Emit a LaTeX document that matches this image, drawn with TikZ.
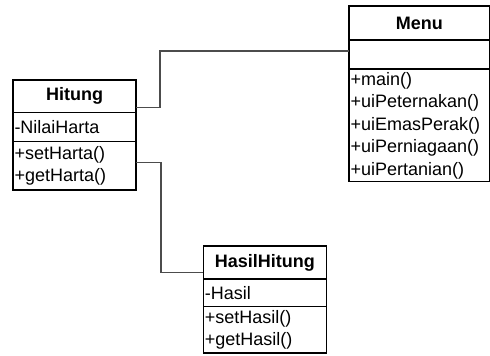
\documentclass[tikz,border=0pt]{standalone}
\usepackage{fontspec}
\setmainfont{Liberation Sans}
\begin{document}
\begin{tikzpicture}[x=1pt,y=-1pt,
  box/.style={draw=black, line width=1.3pt, anchor=north west, inner sep=0pt, outer sep=0pt,
    font=\fontsize{18}{22.5}\selectfont},
  title/.style={box, font=\fontsize{18}{22.5}\selectfont\bfseries, align=center},
  comp/.style={box, align=left, inner xsep=1.5pt},
  link/.style={draw=black!70, line width=1.3pt}]
\useasboundingbox (0,0) rectangle (490,356);
% Hitung
\node[title, minimum width=123pt, minimum height=32.7pt] (hitT) at (13,80) {Hitung};
\node[comp, text width=120pt, minimum height=29pt] (hitA) at (hitT.south west) {-NilaiHarta};
\node[comp, text width=120pt, minimum height=48.3pt] (hitM) at (hitA.south west) {+setHarta()\\+getHarta()};
% Menu
\node[title, minimum width=140.5pt, minimum height=34pt] (menuT) at (349,6) {Menu};
\node[comp, text width=137.5pt, minimum height=29pt] (menuA) at (menuT.south west) {};
\node[comp, text width=137.5pt, minimum height=112.7pt] (menuM) at (menuA.south west)
  {+main()\\+uiPeternakan()\\+uiEmasPerak()\\+uiPerniagaan()\\+uiPertanian()};
% HasilHitung
\node[title, minimum width=123pt, minimum height=33pt] (hasT) at (203.3,246) {HasilHitung};
\node[comp, text width=120pt, minimum height=27.7pt] (hasA) at (hasT.south west) {-Hasil};
\node[comp, text width=120pt, minimum height=46.3pt] (hasM) at (hasA.south west) {+setHasil()\\+getHasil()};
% connectors
\draw[link] ([yshift=5.4pt]hitT.south east) -| ([xshift=-189pt,yshift=3.5pt]menuA.west) -- ([yshift=3.5pt]menuA.west);
\draw[link] ([yshift=3.2pt]hitM.east) -| ([xshift=-42.3pt,yshift=6.3pt]hasT.south west) -- ([yshift=6.3pt]hasT.south west);
\end{tikzpicture}
\end{document}
